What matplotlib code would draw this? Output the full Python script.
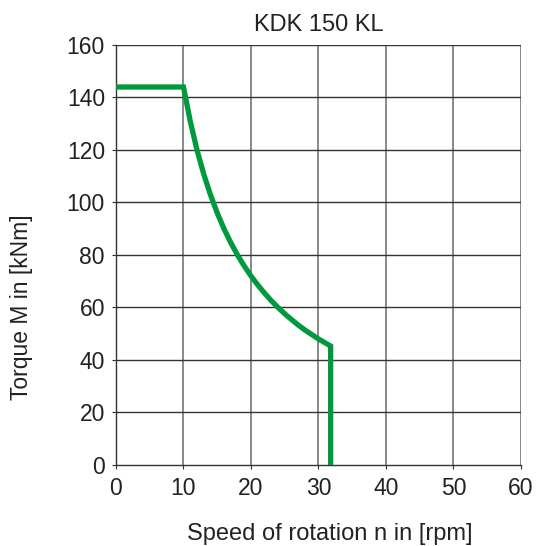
import matplotlib.pyplot as plt

plt.rcParams['font.family'] = ['Liberation Sans', 'DejaVu Sans']

# Torque curve
speed = [0, 10, 11, 12, 13, 14, 15, 16, 17, 18, 19, 20, 21, 22, 23, 24,
         25, 26, 27, 28, 29, 30, 31, 31.8, 31.8]
torque = [144, 144, 131, 120, 110.8, 102.9, 96, 90, 84.7, 80, 75.8, 72,
          68.6, 65.5, 62.6, 60, 57.6, 55.4, 53.3, 51.4, 49.7, 48, 46.5, 45.3, 0]

x_ticks = [0, 10, 20, 30, 40, 50, 60]
y_ticks = [0, 20, 40, 60, 80, 100, 120, 140, 160]

fig = plt.figure(figsize=(5.36, 5.46), dpi=100)
ax = fig.add_axes([0.2164, 0.1484, 0.7556, 0.7692])

# Grid: vertical lines lighter than horizontal ones
for x in x_ticks[1:]:
    ax.axvline(x, color='#808080', lw=1.3, zorder=1)
for y in y_ticks[1:]:
    ax.axhline(y, color='#333333', lw=1.0, zorder=1)

ax.plot(speed, torque, color='#009a3e', lw=3.8, solid_joinstyle='miter', zorder=3)

ax.set_xlim(0, 60)
ax.set_ylim(0, 160)
ax.set_xticks(x_ticks)
ax.set_yticks(y_ticks)
ax.tick_params(labelsize=16.5, length=3, width=0.8, color='#333333',
               labelcolor='#222222')
ax.tick_params(axis='x', pad=6)
ax.tick_params(axis='y', pad=5)
for s in ['top', 'right']:
    ax.spines[s].set_visible(False)
for s in ['left', 'bottom']:
    ax.spines[s].set_color('#333333')
    ax.spines[s].set_linewidth(1.0)

ax.set_xlabel('Speed of rotation n in [rpm]', fontsize=17, color='#222222')
ax.set_ylabel('Torque M in [kNm]', fontsize=16.5, color='#222222')
ax.xaxis.set_label_coords(0.527, -0.137, transform=ax.transAxes)
ax.yaxis.set_label_coords(33 / 536, 0.5 - 34 / 546, transform=fig.transFigure)
ax.set_title('KDK 150 KL', fontsize=17, pad=10, color='#222222')

fig.savefig('out.png', dpi=100)
